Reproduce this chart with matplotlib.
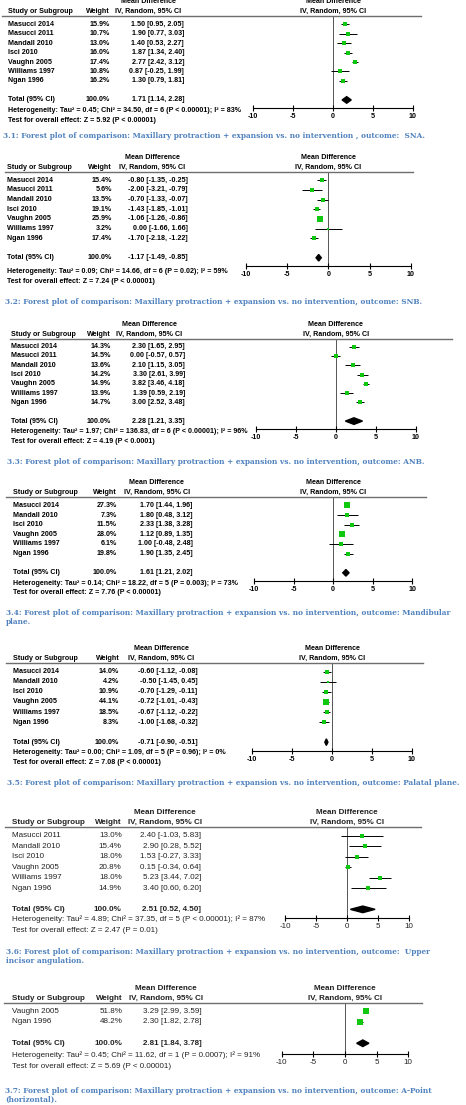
import matplotlib.pyplot as plt
from matplotlib.lines import Line2D
from matplotlib.transforms import blended_transform_factory

W, H = 466, 1105

# ---- data ----
sna_studies = ['Masucci 2014', 'Masucci 2011', 'Mandall 2010', 'Isci 2010', 'Vaughn 2005', 'Williams 1997', 'Ngan 1996']
sna_weight = [15.9, 10.7, 13.0, 16.0, 17.4, 10.8, 16.2]
sna_md = [1.50, 1.90, 1.40, 1.87, 2.77, 0.87, 1.30]
sna_lo = [0.95, 0.77, 0.53, 1.34, 2.42, -0.25, 0.79]
sna_hi = [2.05, 3.03, 2.27, 2.40, 3.12, 1.99, 1.81]
sna_total = (1.71, 1.14, 2.28)

snb_studies = sna_studies
snb_weight = [15.4, 5.6, 13.5, 19.1, 25.9, 3.2, 17.4]
snb_md = [-0.80, -2.00, -0.70, -1.43, -1.06, 0.00, -1.70]
snb_lo = [-1.35, -3.21, -1.33, -1.85, -1.26, -1.66, -2.18]
snb_hi = [-0.25, -0.79, -0.07, -1.01, -0.86, 1.66, -1.22]
snb_total = (-1.17, -1.49, -0.85)

anb_studies = sna_studies
anb_weight = [14.3, 14.5, 13.6, 14.2, 14.9, 13.9, 14.7]
anb_md = [2.30, 0.00, 2.10, 3.30, 3.82, 1.39, 3.00]
anb_lo = [1.65, -0.57, 1.15, 2.61, 3.46, 0.59, 2.52]
anb_hi = [2.95, 0.57, 3.05, 3.99, 4.18, 2.19, 3.48]
anb_total = (2.28, 1.21, 3.35)

mp_studies = ['Masucci 2014', 'Mandall 2010', 'Isci 2010', 'Vaughn 2005', 'Williams 1997', 'Ngan 1996']
mp_weight = [27.3, 7.3, 11.5, 28.0, 6.1, 19.8]
mp_md = [1.70, 1.80, 2.33, 1.12, 1.00, 1.90]
mp_lo = [1.44, 0.48, 1.38, 0.89, -0.48, 1.35]
mp_hi = [1.96, 3.12, 3.28, 1.35, 2.48, 2.45]
mp_total = (1.61, 1.21, 2.02)

pp_studies = mp_studies
pp_weight = [14.0, 4.2, 10.9, 44.1, 18.5, 8.3]
pp_md = [-0.60, -0.50, -0.70, -0.72, -0.67, -1.00]
pp_lo = [-1.12, -1.45, -1.29, -1.01, -1.12, -1.68]
pp_hi = [-0.08, 0.45, -0.11, -0.43, -0.22, -0.32]
pp_total = (-0.71, -0.90, -0.51)

ui_studies = ['Masucci 2011', 'Mandall 2010', 'Isci 2010', 'Vaughn 2005', 'Williams 1997', 'Ngan 1996']
ui_weight = [13.0, 15.4, 18.0, 20.8, 18.0, 14.9]
ui_md = [2.40, 2.90, 1.53, 0.15, 5.23, 3.40]
ui_lo = [-1.03, 0.28, -0.27, -0.34, 3.44, 0.60]
ui_hi = [5.83, 5.52, 3.33, 0.64, 7.02, 6.20]
ui_total = (2.51, 0.52, 4.50)

ap_studies = ['Vaughn 2005', 'Ngan 1996']
ap_weight = [51.8, 48.2]
ap_md = [3.29, 2.30]
ap_lo = [2.99, 1.82]
ap_hi = [3.59, 2.78]
ap_total = (2.81, 1.84, 3.78)

het_texts = [
    'Heterogeneity: Tau\u00b2 = 0.45; Chi\u00b2 = 34.50, df = 6 (P < 0.00001); I\u00b2 = 83%',
    'Heterogeneity: Tau\u00b2 = 0.09; Chi\u00b2 = 14.66, df = 6 (P = 0.02); I\u00b2 = 59%',
    'Heterogeneity: Tau\u00b2 = 1.97; Chi\u00b2 = 136.83, df = 6 (P < 0.00001); I\u00b2 = 96%',
    'Heterogeneity: Tau\u00b2 = 0.14; Chi\u00b2 = 18.22, df = 5 (P = 0.003); I\u00b2 = 73%',
    'Heterogeneity: Tau\u00b2 = 0.00; Chi\u00b2 = 1.09, df = 5 (P = 0.96); I\u00b2 = 0%',
    'Heterogeneity: Tau\u00b2 = 4.89; Chi\u00b2 = 37.35, df = 5 (P < 0.00001); I\u00b2 = 87%',
    'Heterogeneity: Tau\u00b2 = 0.45; Chi\u00b2 = 11.62, df = 1 (P = 0.0007); I\u00b2 = 91%',
]
test_texts = [
    'Test for overall effect: Z = 5.92 (P < 0.00001)',
    'Test for overall effect: Z = 7.24 (P < 0.00001)',
    'Test for overall effect: Z = 4.19 (P < 0.0001)',
    'Test for overall effect: Z = 7.76 (P < 0.00001)',
    'Test for overall effect: Z = 7.08 (P < 0.00001)',
    'Test for overall effect: Z = 2.47 (P = 0.01)',
    'Test for overall effect: Z = 5.69 (P < 0.00001)',
]
captions = [
    ['3.1: Forest plot of comparison: Maxillary protraction + expansion vs. no intervention , outcome:  SNA.'],
    ['3.2: Forest plot of comparison: Maxillary protraction + expansion vs. no intervention, outcome: SNB.'],
    ['3.3: Forest plot of comparison: Maxillary protraction + expansion vs. no intervention, outcome: ANB.'],
    ['3.4: Forest plot of comparison: Maxillary protraction + expansion vs. no intervention, outcome: Mandibular', 'plane.'],
    ['3.5: Forest plot of comparison: Maxillary protraction + expansion vs. no intervention, outcome: Palatal plane.'],
    ['3.6: Forest plot of comparison: Maxillary protraction + expansion vs. no intervention, outcome:  Upper', 'incisor angulation.'],
    ['3.7: Forest plot of comparison: Maxillary protraction + expansion vs. no intervention, outcome: A-Point', '(horizontal).'],
]
ticks = [-10, -5, 0, 5, 10]

# ---- layout per panel (pixel positions in the 466x1105 image) ----
layouts = [
    dict(rule_y=16, axis_y=108, x0=253, x1=413, rx0=2, rx1=421, cs=8, cw=110, cci=184, het_y=111, test_y=120.5, cap_x=3.3, cap_y=[136], pt=0.85, pb=0.85, old=True),
    dict(rule_y=172, axis_y=266, x0=245.7, x1=411, rx0=5, rx1=413, cs=7, cw=112, cci=188, het_y=271.7, test_y=281.7, cap_x=5, cap_y=[301.7], pt=0.85, pb=0.85, old=True),
    dict(rule_y=338.7, axis_y=429, x0=255.7, x1=415.7, rx0=10, rx1=452, cs=10.7, cw=111, cci=185, het_y=432, test_y=441.7, cap_x=6.7, cap_y=[461.7], pt=0.85, pb=0.85, old=True),
    dict(rule_y=497.3, axis_y=581, x0=254, x1=412.3, rx0=6, rx1=426, cs=12.7, cw=116.7, cci=192.7, het_y=583.3, test_y=593, cap_x=6, cap_y=[612.7, 621.7], pt=0.85, pb=0.85, old=True),
    dict(rule_y=663.3, axis_y=750.7, x0=252.3, x1=411.7, rx0=6, rx1=423, cs=12.7, cw=119.3, cci=197.3, het_y=752.7, test_y=762.7, cap_x=6.7, cap_y=[783.3], pt=0.85, pb=0.85, old=True),
    dict(rule_y=826.7, axis_y=918.3, x0=285, x1=409.3, rx0=5, rx1=421, cs=11.7, cw=121.7, cci=201, het_y=919.3, test_y=930, cap_x=6, cap_y=[951.7, 960.7], pt=0.85, pb=0.85, old=False),
    dict(rule_y=1003.3, axis_y=1054, x0=281.7, x1=408.3, rx0=4, rx1=422, cs=11.7, cw=122.7, cci=201.7, het_y=1055, test_y=1066, cap_x=5, cap_y=[1090.7, 1100], pt=0.72, pb=1.0, old=False),
]

plt.rcParams['font.family'] = ['Liberation Sans', 'DejaVu Sans']
GREEN = '#10c810'
CAP_BLUE = '#4f81bd'

fig = plt.figure(figsize=(W / 100, H / 100), dpi=100)


def fx(x):
    return x / W


def fy(y):
    return 1 - y / H


def ci_str(m, l, h):
    return f'{m:.2f} [{l:.2f}, {h:.2f}]'


def draw_panel(studies, weight, md, lo, hi, total, het, test, caption, lay):
    n = len(studies)
    if lay['old']:
        fs, fw, tcol = 5.1, 'bold', 'black'
        hw = 'bold'
    else:
        fs, fw, tcol = 5.8, 'normal', '#222222'
        hw = 'bold'

    ax = fig.add_axes([fx(lay['x0']), fy(lay['axis_y']),
                       (lay['x1'] - lay['x0']) / W, (lay['axis_y'] - lay['rule_y']) / H])
    ax.set_xlim(-10, 10)
    ax.set_ylim(n + 1 + lay['pb'], -lay['pt'])
    px_unit = (lay['axis_y'] - lay['rule_y']) / (n + 1 + lay['pb'] + lay['pt'])

    rows = list(range(n))
    ax.hlines(rows, lo, hi, color='black', lw=0.7, zorder=2)
    for r, m, w in zip(rows, md, weight):
        side = 1.2 + 0.8 * w ** 0.5
        ax.plot(m, r, marker='s', ms=side * 0.72, color=GREEN, mec=GREEN, mew=0, zorder=3)

    tot_y = n + 1
    dh = 3.3 / px_unit
    tm, tl, th = total
    ax.fill([tl, tm, th, tm], [tot_y, tot_y - dh, tot_y, tot_y + dh], color='black', zorder=3)
    ax.axvline(0, color='#555555', lw=0.7, zorder=1)

    for s in ['top', 'left', 'right']:
        ax.spines[s].set_visible(False)
    ax.spines['bottom'].set_linewidth(0.8)
    ax.set_yticks([])
    ax.set_xticks(ticks)
    ax.set_xticklabels([str(t) for t in ticks], fontsize=fs, fontweight=fw, color=tcol)
    ax.tick_params(axis='x', direction='inout', length=5, width=0.8, pad=1)
    ax.patch.set_alpha(0)

    # table columns, aligned with the forest rows
    tr = blended_transform_factory(fig.transFigure, ax.transData)
    kw = dict(transform=tr, va='center', fontsize=fs, color=tcol)
    for r, name, w, m, l, h in zip(rows, studies, weight, md, lo, hi):
        ax.text(fx(lay['cs']), r, name, ha='left', fontweight=fw, **kw)
        ax.text(fx(lay['cw']), r, f'{w:.1f}%', ha='right', fontweight=fw, **kw)
        ax.text(fx(lay['cci']), r, ci_str(m, l, h), ha='right', fontweight=fw, **kw)
    ax.text(fx(lay['cs']), tot_y, 'Total (95% CI)', ha='left', fontweight=hw, **kw)
    ax.text(fx(lay['cw']), tot_y, '100.0%', ha='right', fontweight=hw, **kw)
    ax.text(fx(lay['cci']), tot_y, ci_str(*total), ha='right', fontweight=hw, **kw)

    # headers
    hk = dict(va='center', fontsize=fs, color=tcol, fontweight=hw)
    y1 = fy(lay['rule_y'] - 4.5)
    y2 = fy(lay['rule_y'] - 14.5)
    ci_c = fx(lay['cci'] - 36)
    zero_c = fx((lay['x0'] + lay['x1']) / 2)
    fig.text(fx(lay['cs']), y1, 'Study or Subgroup', ha='left', **hk)
    fig.text(fx(lay['cw']), y1, 'Weight', ha='right', **hk)
    fig.text(ci_c, y2, 'Mean Difference', ha='center', **hk)
    fig.text(ci_c, y1, 'IV, Random, 95% CI', ha='center', **hk)
    fig.text(zero_c, y2, 'Mean Difference', ha='center', **hk)
    fig.text(zero_c, y1, 'IV, Random, 95% CI', ha='center', **hk)
    fig.add_artist(Line2D([fx(lay['rx0']), fx(lay['rx1'])], [fy(lay['rule_y'])] * 2,
                          color='#6e6e6e', lw=1.0))

    fig.text(fx(lay['cs']), fy(lay['het_y']), het, ha='left', va='center', fontsize=fs, fontweight=fw, color=tcol)
    fig.text(fx(lay['cs']), fy(lay['test_y']), test, ha='left', va='center', fontsize=fs, fontweight=fw, color=tcol)

    for line, cy in zip(caption, lay['cap_y']):
        fig.text(fx(lay['cap_x']), fy(cy), line, ha='left', va='center', fontsize=5.3,
                 fontweight='bold', color=CAP_BLUE, family=['DejaVu Serif'])


panels = [
    (sna_studies, sna_weight, sna_md, sna_lo, sna_hi, sna_total),
    (snb_studies, snb_weight, snb_md, snb_lo, snb_hi, snb_total),
    (anb_studies, anb_weight, anb_md, anb_lo, anb_hi, anb_total),
    (mp_studies, mp_weight, mp_md, mp_lo, mp_hi, mp_total),
    (pp_studies, pp_weight, pp_md, pp_lo, pp_hi, pp_total),
    (ui_studies, ui_weight, ui_md, ui_lo, ui_hi, ui_total),
    (ap_studies, ap_weight, ap_md, ap_lo, ap_hi, ap_total),
]

for i, p in enumerate(panels):
    draw_panel(*p, het_texts[i], test_texts[i], captions[i], layouts[i])

fig.savefig('out.png', dpi=100, facecolor='white')
plt.close(fig)
